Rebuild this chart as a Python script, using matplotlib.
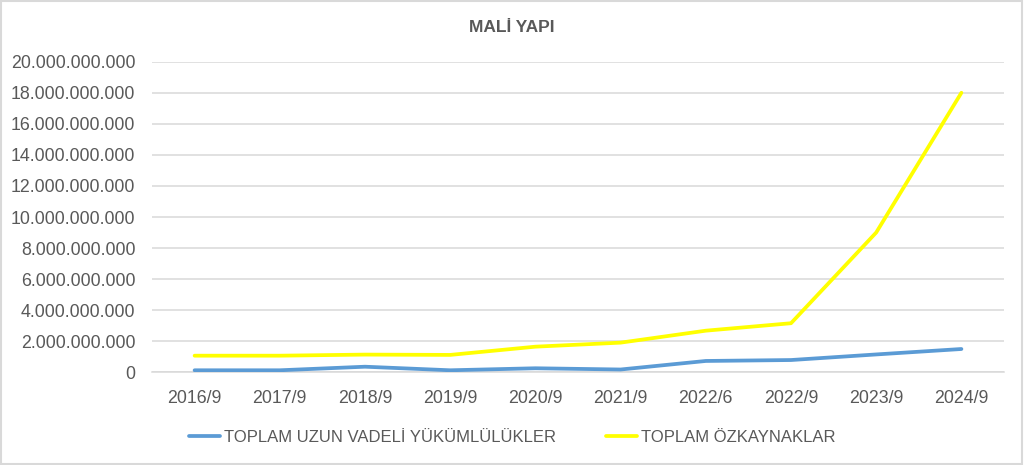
import matplotlib
matplotlib.use("Agg")
import matplotlib.pyplot as plt
from matplotlib.ticker import FuncFormatter
from matplotlib.patches import Rectangle

categories = ["2016/9", "2017/9", "2018/9", "2019/9", "2020/9",
              "2021/9", "2022/6", "2022/9", "2023/9", "2024/9"]
uzun_vadeli = [0.13e9, 0.13e9, 0.36e9, 0.13e9, 0.26e9,
               0.18e9, 0.73e9, 0.79e9, 1.15e9, 1.50e9]
ozkaynaklar = [1.07e9, 1.07e9, 1.14e9, 1.12e9, 1.65e9,
               1.91e9, 2.68e9, 3.16e9, 9.0e9, 18.0e9]
series_names = ["TOPLAM UZUN VADELİ YÜKÜMLÜLÜKLER", "TOPLAM ÖZKAYNAKLAR"]
title = "MALİ YAPI"

plt.rcParams['font.family'] = ['Liberation Sans', 'DejaVu Sans']
text_color = "#595959"
grid_color = "#d9d9d9"

fig = plt.figure(figsize=(10.24, 4.65), dpi=100)
ax = fig.add_axes([152/1024, 1 - 372.3/465, (1004-152)/1024, (372.3-61.7)/465])

x = list(range(len(categories)))
ax.plot(x, uzun_vadeli, color="#5b9bd5", lw=2.7, solid_capstyle="round",
        label=series_names[0], zorder=3)
ax.plot(x, ozkaynaklar, color="#ffff00", lw=2.7, solid_capstyle="round",
        label=series_names[1], zorder=3)

ax.set_xlim(-0.5, len(categories) - 0.5)
ax.set_ylim(0, 20e9)
ax.set_yticks([i * 2e9 for i in range(11)])
ax.yaxis.set_major_formatter(FuncFormatter(lambda v, p: f"{int(round(v)):,}".replace(",", ".")))
ax.set_xticks(x)
ax.set_xticklabels(categories)
ax.grid(axis="y", color=grid_color, lw=1.1, zorder=0)
ax.set_axisbelow(True)
for s in ["top", "right", "left"]:
    ax.spines[s].set_visible(False)
ax.spines["bottom"].set_color(grid_color)
ax.spines["bottom"].set_linewidth(1.1)
ax.tick_params(axis="y", length=0, pad=12, labelsize=12.8, labelcolor=text_color)
ax.tick_params(axis="x", length=0, pad=13, labelsize=12.8, labelcolor=text_color)

fig.text(0.5, 1 - 28/465, title, ha="center", va="center", fontsize=12.5,
         fontweight="bold", color=text_color)

leg = fig.legend(loc="center", bbox_to_anchor=(0.5, 1 - 437/465), ncol=2,
                 frameon=False, fontsize=12, handlelength=1.9, handletextpad=0.2,
                 columnspacing=3.0, labelcolor=text_color)

fig.patches.append(Rectangle((0.001, 0.002), 0.997, 0.995, transform=fig.transFigure,
                             fill=False, edgecolor=grid_color, lw=1.5))

fig.savefig("out.png", dpi=100, facecolor="white")
